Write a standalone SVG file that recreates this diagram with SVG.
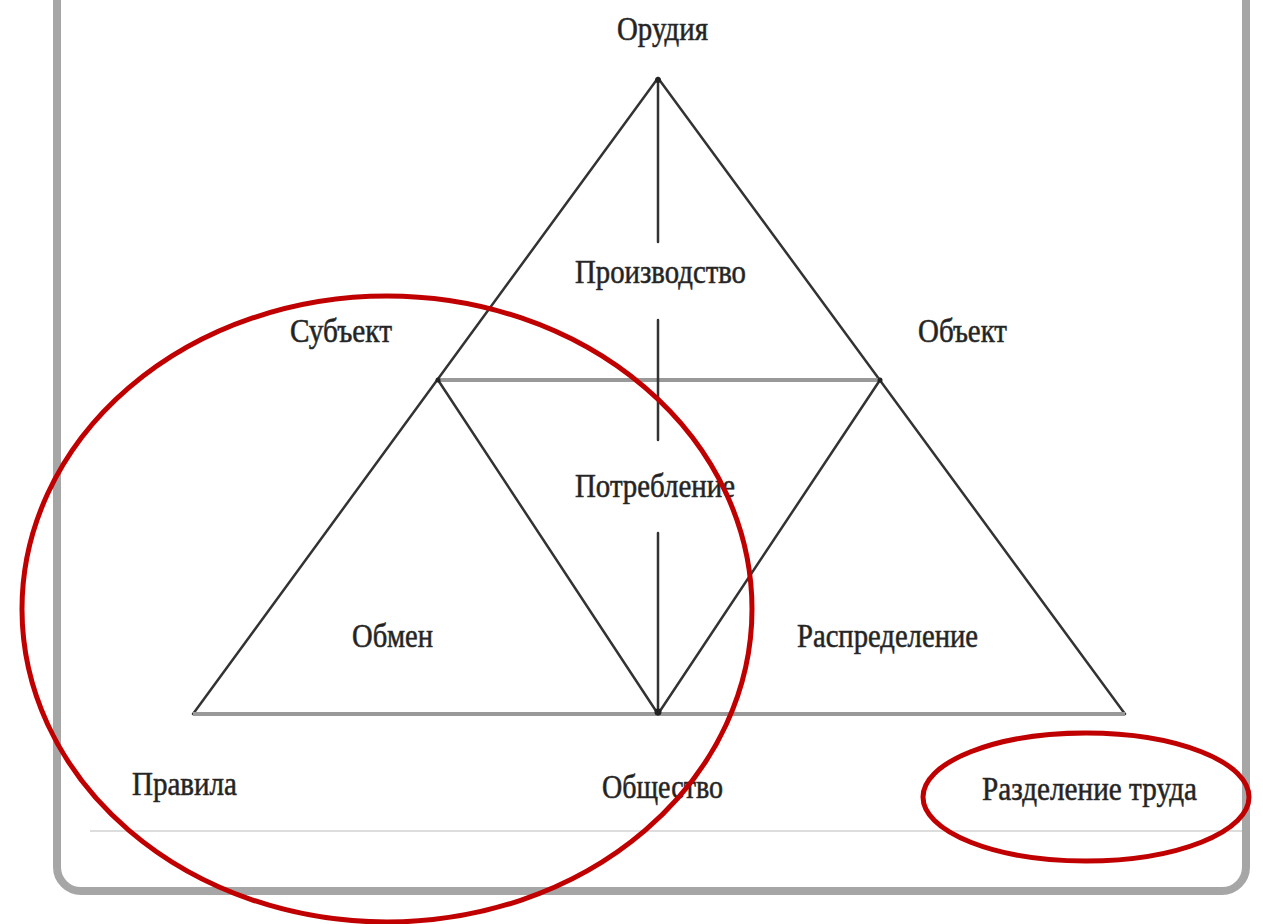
<svg xmlns="http://www.w3.org/2000/svg" width="1263" height="924" viewBox="0 0 1263 924">
<style>
.lbl{font-family:"Liberation Serif","DejaVu Serif",serif;font-size:34px;fill:#222;stroke:#333;stroke-width:0.6;}
.ln{stroke:#333;stroke-width:2.5;fill:none;stroke-linecap:round;}
.gl{stroke:#999;stroke-width:4;fill:none;}
.red{stroke:#c00000;stroke-width:5;fill:none;}
</style>
<rect x="0" y="0" width="1263" height="924" fill="#fff"/>
<rect x="57" y="-40" width="1189" height="931" rx="24" fill="#fff" stroke="#a6a6a6" stroke-width="8"/>
<line x1="90" y1="831" x2="1242" y2="831" stroke="#ddd" stroke-width="2"/>
<g id="connectors">
<line class="ln" x1="658" y1="78" x2="193" y2="714"/>
<line class="ln" x1="658" y1="78" x2="1125" y2="714"/>
<line class="gl" x1="193" y1="714" x2="1125" y2="714"/>
<line class="gl" x1="438" y1="380" x2="880" y2="380"/>
<line class="ln" x1="438" y1="380" x2="658" y2="714"/>
<line class="ln" x1="880" y1="380" x2="658" y2="714"/>
<line class="ln" x1="658" y1="78" x2="658" y2="242"/>
<line class="ln" x1="658" y1="320" x2="658" y2="440"/>
<line class="ln" x1="658" y1="533" x2="658" y2="714"/>
<circle cx="658" cy="80" r="3" fill="#222"/>
<circle cx="658" cy="712" r="3.5" fill="#222"/>
<circle cx="438" cy="380" r="2.5" fill="#222"/>
<circle cx="880" cy="380" r="2.5" fill="#222"/>
</g>
<g id="n-orudiya"><text class="lbl" x="617" y="40" textLength="91" lengthAdjust="spacingAndGlyphs">Орудия</text></g>
<g id="n-proizvodstvo"><text class="lbl" x="575" y="283" textLength="171" lengthAdjust="spacingAndGlyphs">Производство</text></g>
<g id="n-subekt"><text class="lbl" x="290" y="342" textLength="102" lengthAdjust="spacingAndGlyphs">Субъект</text></g>
<g id="n-obekt"><text class="lbl" x="918" y="342" textLength="89" lengthAdjust="spacingAndGlyphs">Объект</text></g>
<g id="n-potreblenie"><text class="lbl" x="575" y="497" textLength="160" lengthAdjust="spacingAndGlyphs">Потребление</text></g>
<g id="n-obmen"><text class="lbl" x="352" y="647" textLength="81" lengthAdjust="spacingAndGlyphs">Обмен</text></g>
<g id="n-raspredelenie"><text class="lbl" x="797" y="647" textLength="181" lengthAdjust="spacingAndGlyphs">Распределение</text></g>
<g id="n-pravila"><text class="lbl" x="132" y="795" textLength="105" lengthAdjust="spacingAndGlyphs">Правила</text></g>
<g id="n-obshchestvo"><text class="lbl" x="602" y="798" textLength="121" lengthAdjust="spacingAndGlyphs">Общество</text></g>
<g id="n-razdelenie"><text class="lbl" x="982" y="800" textLength="215" lengthAdjust="spacingAndGlyphs">Разделение труда</text></g>
<g id="highlights">
<ellipse class="red" cx="387" cy="609" rx="365" ry="313"/>
<ellipse class="red" cx="1086" cy="797" rx="163" ry="64"/>
</g>
</svg>
